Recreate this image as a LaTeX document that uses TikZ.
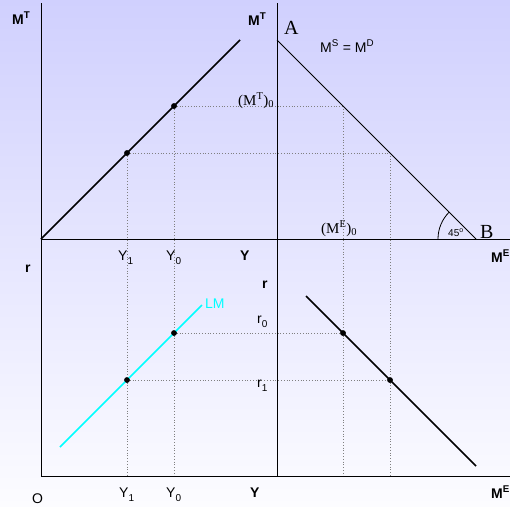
\documentclass[tikz,border=0pt]{standalone}
\usepackage{fontspec}
\setmainfont{Liberation Sans}
\newfontfamily\timesfont{Liberation Serif}
\usepackage{xcolor}
\definecolor{bgtop}{RGB}{208,208,254}
\definecolor{bgbottom}{RGB}{252,252,255}
\definecolor{lmcyan}{RGB}{0,255,255}
\newcommand{\lowsub}[1]{\raisebox{-0.3em}{\fontsize{10}{10}\selectfont #1}}

\begin{document}
\begin{tikzpicture}[x=1pt, y=-1pt,
    axis/.style={black, line width=1pt},
    curve/.style={black, line width=1.6pt},
    thinline/.style={black, line width=1pt},
    guide/.style={gray, dotted, line width=0.8pt},
    eqpt/.style={circle, fill=black, inner sep=0pt, minimum size=5.5pt},
    lbl/.style={font=\fontsize{14}{14}\selectfont, inner sep=0pt, anchor=base west},
    blbl/.style={font=\fontsize{14}{14}\selectfont\bfseries, inner sep=0pt, anchor=base west},
    slbl/.style={font=\fontsize{15}{15}\selectfont\timesfont, inner sep=0pt, anchor=base west},
    bigl/.style={font=\fontsize{20}{20}\selectfont\timesfont, inner sep=0pt, anchor=base west}
]
    \useasboundingbox (0,0) rectangle (510,506);
    \shade[top color=bgtop, bottom color=bgbottom] (0,0) rectangle (510,506);

    % axes
    \coordinate (o) at (41,476);
    \coordinate (ltop) at (41,3);
    \coordinate (mtop) at (277,3);
    \coordinate (mbot) at (277,476);
    \coordinate (yleft) at (41,239);
    \coordinate (yright) at (510,239);
    \coordinate (xright) at (510,476);

    % equilibrium points
    \node[eqpt] (t0) at (174,106) {};
    \node[eqpt] (t1) at (127,153) {};
    \node[eqpt] (l0) at (174,333) {};
    \node[eqpt] (l1) at (127,380) {};
    \node[eqpt] (m0) at (343,333) {};
    \node[eqpt] (m1) at (390,380) {};
    \coordinate (s0) at (343,106);
    \coordinate (s1) at (390,153);

    % guide lines
    \draw[guide] (t0.center) -- (s0);
    \draw[guide] (t1.center) -- (s1);
    \draw[guide] (l0.center) -- (m0.center);
    \draw[guide] (l1.center) -- (m1.center);
    \draw[guide] (t0.center) -- (t0.center |- o);
    \draw[guide] (t1.center) -- (t1.center |- o);
    \draw[guide] (s0) -- (s0 |- o);
    \draw[guide] (s1) -- (s1 |- o);

    \draw[axis] (ltop) -- (o) -- (xright);
    \draw[axis] (mtop) -- (mbot);
    \draw[axis] (yleft) -- (yright);

    % curves
    \coordinate (mtend) at (240,40);
    \coordinate (a) at (277,40);
    \coordinate (b) at (476,239);
    \coordinate (lmlo) at (60,447);
    \coordinate (lmhi) at (202,305);
    \coordinate (mdhi) at (306,296);
    \coordinate (mdlo) at (476,466);
    \draw[curve] (yleft) -- (mtend);
    \draw[thinline] (a) -- (b);
    \draw[thinline, line width=0.8pt] (438,239) arc[start angle=180, end angle=225, radius=38];
    \draw[lmcyan, line width=1.6pt] (lmlo) -- (lmhi);
    \draw[curve] (mdhi) -- (mdlo);

    \foreach \p in {t0,t1,l0,l1,m0,m1} \node[eqpt] at (\p) {};

    % labels
    \node[blbl] (lmt) at (12,24) {M\textsuperscript{T}};
    \node[blbl] (mmt) at (248,25) {M\textsuperscript{T}};
    \node[bigl] (la) at (284,34) {A};
    \node[lbl] (eq) at (320,52) {M\textsuperscript{S} = M\textsuperscript{D}};
    \node[slbl] (mt0) at (238,105) {(M\textsuperscript{T})\textsubscript{0}};
    \node[slbl] (me0) at (321,233) {(M\textsuperscript{E})\textsubscript{0}};
    \node[lbl, font=\fontsize{10}{10}\selectfont] (ang) at (448,236) {45\textsuperscript{o}};
    \node[bigl] (lb) at (480,238) {B};
    \node[blbl] (met) at (491,262) {M\textsuperscript{E}};
    \node[blbl] (rl) at (25,272) {r};
    \node[lbl] (y1t) at (118,260) {Y\lowsub{1}};
    \node[lbl] (y0t) at (166,260) {Y\lowsub{0}};
    \node[blbl] (yt) at (240,260) {Y};
    \node[blbl] (rm) at (262,288) {r};
    \node[lbl, text=lmcyan] (lm) at (205,308) {LM};
    \node[lbl] (r0) at (257,323) {r\lowsub{0}};
    \node[lbl] (r1) at (257,387) {r\lowsub{1}};
    \node[lbl] (lo) at (32,503) {O};
    \node[lbl] (y1b) at (119,497) {Y\lowsub{1}};
    \node[lbl] (y0b) at (166,497) {Y\lowsub{0}};
    \node[blbl] (yb) at (250,497) {Y};
    \node[blbl] (meb) at (491,498) {M\textsuperscript{E}};
\end{tikzpicture}
\end{document}
